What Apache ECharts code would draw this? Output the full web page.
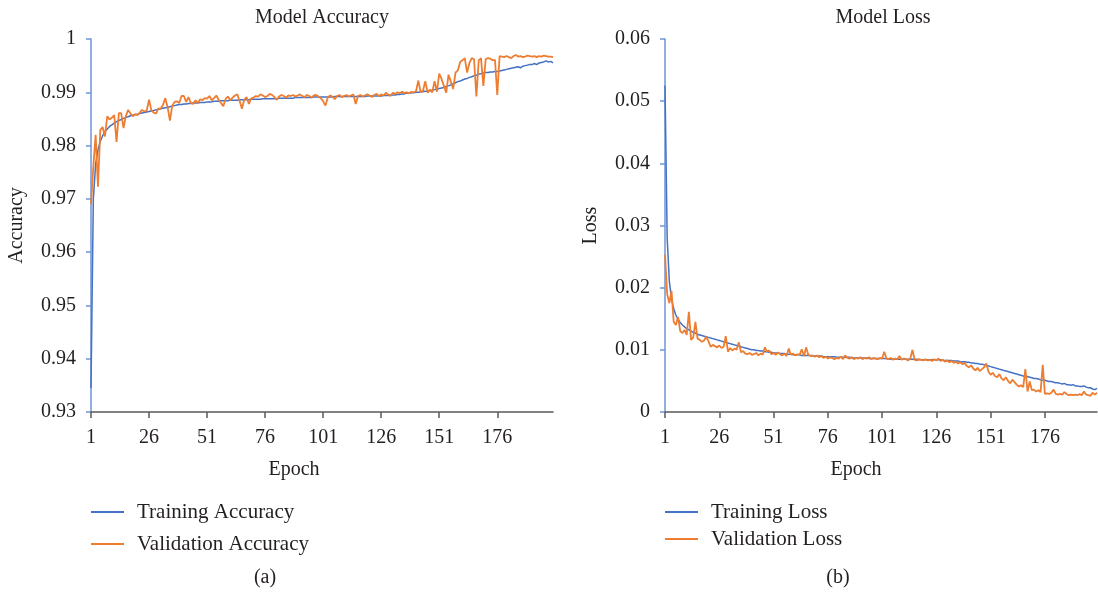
<!DOCTYPE html>
<html>
<head>
<meta charset="utf-8">
<title>Model Accuracy / Model Loss</title>
<script src="https://cdn.jsdelivr.net/npm/echarts@6.0.0/dist/echarts.min.js"></script>
<style>
    html, body { margin: 0; padding: 0; background: #fff; }
    #chart { width: 1098px; height: 595px; }
</style>
</head>
<body>
<div id="chart"></div>
<script>
// epochs 1..200 (category labels only)
let epochs = []
for (let i = 1; i <= 200; i++) {
    epochs.push(String(i))
}

let trainAcc = [
    0.9345, 0.9700, 0.9765, 0.9792, 0.9808, 0.9818, 0.9826, 0.9831, 0.9836, 0.9839,
    0.9842, 0.9845, 0.9847, 0.9849, 0.9851, 0.9853, 0.9854, 0.9856, 0.9857, 0.9858,
    0.9859, 0.9860, 0.9861, 0.9862, 0.9863, 0.9864, 0.9865, 0.9866, 0.9867, 0.9868,
    0.9869, 0.9870, 0.9871, 0.9872, 0.9873, 0.9874, 0.9875, 0.9876, 0.9877, 0.9877,
    0.9878, 0.9878, 0.9879, 0.9879, 0.9880, 0.9880, 0.9880, 0.9881, 0.9881, 0.9881,
    0.9882, 0.9882, 0.9882, 0.9883, 0.9883, 0.9883, 0.9884, 0.9884, 0.9884, 0.9884,
    0.9885, 0.9885, 0.9885, 0.9885, 0.9886, 0.9886, 0.9886, 0.9886, 0.9886, 0.9887,
    0.9887, 0.9887, 0.9887, 0.9887, 0.9888, 0.9888, 0.9888, 0.9888, 0.9888, 0.9888,
    0.9888, 0.9889, 0.9889, 0.9889, 0.9889, 0.9889, 0.9889, 0.9889, 0.9890, 0.9890,
    0.9890, 0.9890, 0.9890, 0.9890, 0.9890, 0.9890, 0.9891, 0.9891, 0.9891, 0.9891,
    0.9891, 0.9891, 0.9891, 0.9891, 0.9891, 0.9892, 0.9892, 0.9892, 0.9892, 0.9892,
    0.9892, 0.9892, 0.9892, 0.9892, 0.9892, 0.9892, 0.9892, 0.9892, 0.9892, 0.9893,
    0.9893, 0.9893, 0.9893, 0.9893, 0.9893, 0.9893, 0.9894, 0.9894, 0.9894, 0.9895,
    0.9895, 0.9895, 0.9896, 0.9896, 0.9897, 0.9897, 0.9898, 0.9898, 0.9899, 0.9899,
    0.9900, 0.9900, 0.9901, 0.9901, 0.9902, 0.9902, 0.9903, 0.9904, 0.9905, 0.9906,
    0.9907, 0.9908, 0.9909, 0.9911, 0.9912, 0.9914, 0.9916, 0.9918, 0.9920, 0.9921,
    0.9923, 0.9925, 0.9926, 0.9928, 0.9929, 0.9931, 0.9932, 0.9934, 0.9935, 0.9936,
    0.9937, 0.9937, 0.9938, 0.9938, 0.9939, 0.9939, 0.9940, 0.9941, 0.9942, 0.9943,
    0.9944, 0.9945, 0.9946, 0.9947, 0.9948, 0.9946, 0.9949, 0.9950, 0.9951, 0.9952,
    0.9952, 0.9954, 0.9952, 0.9955, 0.9956, 0.9957, 0.9959, 0.9957, 0.9958, 0.9955
]

let valAcc = [
    0.9690, 0.9760, 0.9820, 0.9723, 0.9829, 0.9835, 0.9817, 0.9855, 0.9849, 0.9852,
    0.9857, 0.9807, 0.9861, 0.9861, 0.9833, 0.9855, 0.9867, 0.9860, 0.9855, 0.9859,
    0.9857, 0.9862, 0.9867, 0.9864, 0.9866, 0.9886, 0.9866, 0.9862, 0.9860, 0.9870,
    0.9869, 0.9876, 0.9889, 0.9872, 0.9847, 0.9875, 0.9882, 0.9883, 0.9880, 0.9893,
    0.9893, 0.9882, 0.9891, 0.9880, 0.9878, 0.9885, 0.9880, 0.9887, 0.9885, 0.9889,
    0.9888, 0.9893, 0.9885, 0.9889, 0.9894, 0.9886, 0.9880, 0.9874, 0.9888, 0.9892,
    0.9885, 0.9890, 0.9894, 0.9896, 0.9884, 0.9869, 0.9886, 0.9891, 0.9878, 0.9888,
    0.9890, 0.9893, 0.9892, 0.9896, 0.9894, 0.9891, 0.9893, 0.9897, 0.9895, 0.9891,
    0.9886, 0.9892, 0.9895, 0.9893, 0.9890, 0.9894, 0.9893, 0.9895, 0.9892, 0.9894,
    0.9896, 0.9893, 0.9891, 0.9895, 0.9893, 0.9890, 0.9894, 0.9895, 0.9892, 0.9889,
    0.9883, 0.9875, 0.9890, 0.9894, 0.9892, 0.9887, 0.9893, 0.9895, 0.9891, 0.9893,
    0.9895, 0.9892, 0.9894, 0.9896, 0.9878, 0.9893, 0.9895, 0.9892, 0.9894, 0.9896,
    0.9894, 0.9891, 0.9895, 0.9897, 0.9893, 0.9896, 0.9894, 0.9899, 0.9896, 0.9893,
    0.9899, 0.9897, 0.9900, 0.9898, 0.9901, 0.9899, 0.9900, 0.9898, 0.9901, 0.9900,
    0.9902, 0.9922, 0.9900, 0.9903, 0.9921, 0.9899, 0.9905, 0.9900, 0.9921, 0.9901,
    0.9935, 0.9925, 0.9912, 0.9899, 0.9933, 0.9920, 0.9906, 0.9937, 0.9941, 0.9957,
    0.9960, 0.9964, 0.9937, 0.9955, 0.9964, 0.9962, 0.9892, 0.9960, 0.9964, 0.9912,
    0.9962, 0.9964, 0.9963, 0.9960, 0.9961, 0.9895, 0.9968, 0.9967, 0.9966, 0.9968,
    0.9966, 0.9964, 0.9968, 0.9970, 0.9967, 0.9968, 0.9966, 0.9967, 0.9969, 0.9968,
    0.9967, 0.9968, 0.9966, 0.9968, 0.9967, 0.9969, 0.9968, 0.9967, 0.9967, 0.9966
]

let trainLoss = [
    0.0525, 0.0280, 0.0210, 0.0182, 0.0166, 0.0156, 0.0149, 0.0144, 0.0140, 0.0137,
    0.0134, 0.0132, 0.0130, 0.0128, 0.0127, 0.0125, 0.0124, 0.0123, 0.0122, 0.0121,
    0.0120, 0.0119, 0.0118, 0.0117, 0.0116, 0.0115, 0.0114, 0.0113, 0.0112, 0.0111,
    0.0110, 0.0109, 0.0108, 0.0107, 0.0106, 0.0105, 0.0104, 0.0103, 0.0102, 0.0101,
    0.0100, 0.0100, 0.0099, 0.0099, 0.0098, 0.0098, 0.0097, 0.0097, 0.0096, 0.0096,
    0.0095, 0.0095, 0.0095, 0.0094, 0.0094, 0.0094, 0.0093, 0.0093, 0.0093, 0.0092,
    0.0092, 0.0092, 0.0092, 0.0091, 0.0091, 0.0091, 0.0091, 0.0091, 0.0090, 0.0090,
    0.0090, 0.0090, 0.0090, 0.0089, 0.0089, 0.0089, 0.0089, 0.0089, 0.0089, 0.0088,
    0.0088, 0.0088, 0.0088, 0.0088, 0.0088, 0.0088, 0.0087, 0.0087, 0.0087, 0.0087,
    0.0087, 0.0087, 0.0087, 0.0087, 0.0086, 0.0086, 0.0086, 0.0086, 0.0086, 0.0086,
    0.0086, 0.0086, 0.0086, 0.0085, 0.0085, 0.0085, 0.0085, 0.0085, 0.0085, 0.0085,
    0.0085, 0.0085, 0.0085, 0.0085, 0.0085, 0.0085, 0.0085, 0.0084, 0.0084, 0.0084,
    0.0084, 0.0084, 0.0084, 0.0084, 0.0084, 0.0084, 0.0084, 0.0084, 0.0083, 0.0083,
    0.0083, 0.0083, 0.0083, 0.0082, 0.0082, 0.0082, 0.0081, 0.0081, 0.0081, 0.0080,
    0.0080, 0.0079, 0.0079, 0.0078, 0.0078, 0.0077, 0.0077, 0.0076, 0.0075, 0.0074,
    0.0073, 0.0072, 0.0071, 0.0070, 0.0069, 0.0068, 0.0067, 0.0066, 0.0065, 0.0064,
    0.0063, 0.0062, 0.0061, 0.0060, 0.0059, 0.0058, 0.0057, 0.0057, 0.0056, 0.0055,
    0.0054, 0.0054, 0.0053, 0.0052, 0.0051, 0.0051, 0.0050, 0.0049, 0.0049, 0.0048,
    0.0047, 0.0047, 0.0046, 0.0045, 0.0046, 0.0044, 0.0044, 0.0043, 0.0044, 0.0042,
    0.0042, 0.0041, 0.0041, 0.0042, 0.0040, 0.0039, 0.0039, 0.0037, 0.0036, 0.0038
]

let valLoss = [
    0.0253, 0.0190, 0.0175, 0.0195, 0.0145, 0.0140, 0.0153, 0.0130, 0.0127, 0.0132,
    0.0124, 0.0161, 0.0116, 0.0120, 0.0145, 0.0118, 0.0116, 0.0113, 0.0115, 0.0121,
    0.0114, 0.0105, 0.0108, 0.0106, 0.0104, 0.0107, 0.0103, 0.0105, 0.0122, 0.0097,
    0.0103, 0.0099, 0.0102, 0.0100, 0.0112, 0.0096, 0.0098, 0.0094, 0.0093, 0.0095,
    0.0092, 0.0093, 0.0095, 0.0091, 0.0094, 0.0092, 0.0104, 0.0097, 0.0099, 0.0093,
    0.0095, 0.0092, 0.0096, 0.0093, 0.0091, 0.0094, 0.0090, 0.0102, 0.0092, 0.0094,
    0.0091, 0.0093, 0.0092, 0.0101, 0.0090, 0.0104, 0.0092, 0.0090, 0.0091, 0.0089,
    0.0091, 0.0088, 0.0090, 0.0087, 0.0089, 0.0086, 0.0088, 0.0087, 0.0085, 0.0087,
    0.0086, 0.0089, 0.0085, 0.0091, 0.0087, 0.0086, 0.0088, 0.0085, 0.0087, 0.0086,
    0.0088, 0.0085, 0.0087, 0.0086, 0.0088, 0.0085, 0.0087, 0.0086, 0.0085, 0.0087,
    0.0086, 0.0097, 0.0086, 0.0085, 0.0087, 0.0084, 0.0086, 0.0085, 0.0090, 0.0084,
    0.0086, 0.0085, 0.0083, 0.0086, 0.0100, 0.0084, 0.0083, 0.0085, 0.0084, 0.0083,
    0.0085, 0.0083, 0.0084, 0.0082, 0.0085, 0.0083, 0.0086, 0.0082, 0.0084, 0.0081,
    0.0083, 0.0080, 0.0082, 0.0079, 0.0081, 0.0078, 0.0080, 0.0077, 0.0079, 0.0074,
    0.0072, 0.0075, 0.0070, 0.0067, 0.0071, 0.0066, 0.0069, 0.0072, 0.0078, 0.0065,
    0.0060, 0.0063, 0.0058, 0.0056, 0.0061, 0.0054, 0.0051, 0.0056, 0.0050, 0.0046,
    0.0052, 0.0048, 0.0044, 0.0041, 0.0043, 0.0040, 0.0069, 0.0033, 0.0049, 0.0035,
    0.0036, 0.0033, 0.0035, 0.0032, 0.0076, 0.0029, 0.0030, 0.0029, 0.0031, 0.0036,
    0.0029, 0.0028, 0.0029, 0.0028, 0.0032, 0.0029, 0.0027, 0.0028, 0.0027, 0.0028,
    0.0027, 0.0029, 0.0027, 0.0033, 0.0028, 0.0027, 0.0026, 0.0031, 0.0028, 0.0031
]

let blue = '#4472C4', orange = '#ED7D31', ink = '#231F20'
let font = 'Liberation Serif'

function xAxisOpt(gridIndex, shift) {
    return {
        type: 'category',
        gridIndex: gridIndex,
        data: epochs,
        boundaryGap: false,
        name: 'Epoch',
        nameLocation: 'middle',
        nameGap: 48,
        nameTextStyle: {fontFamily: font, fontSize: 20, color: ink, padding: [0, shift, 0, 0]},
        axisLine: {lineStyle: {color: '#595959', width: 1.5}},
        axisTick: {interval: 24, length: 6, lineStyle: {color: '#595959', width: 1.5}},
        axisLabel: {interval: 24, margin: 16, fontFamily: font, fontSize: 20, color: ink},
        splitLine: {show: false}
    }
}

function yAxisOpt(gridIndex, name, min, max) {
    return {
        type: 'value',
        gridIndex: gridIndex,
        min: min,
        max: max,
        interval: 0.01,
        name: name,
        nameLocation: 'middle',
        nameGap: 64,
        nameTextStyle: {fontFamily: font, fontSize: 20, color: ink},
        axisLine: {show: true, lineStyle: {color: '#6E95D6', width: 1.5}},
        axisTick: {show: true, length: 5, lineStyle: {color: '#6E95D6', width: 1.5}},
        axisLabel: {margin: 15, fontFamily: font, fontSize: 20, color: ink},
        splitLine: {show: false}
    }
}

function lineSeries(name, data, color, width, idx) {
    return {
        name: name,
        type: 'line',
        xAxisIndex: idx,
        yAxisIndex: idx,
        data: data,
        showSymbol: false,
        symbol: 'none',
        animation: false,
        lineStyle: {color: color, width: width},
        itemStyle: {color: color}
    }
}

function legendOpt(names, left, gap) {
    return {
        data: names,
        orient: 'vertical',
        left: left,
        top: 496,
        icon: 'rect',
        itemWidth: 33,
        itemHeight: 2,
        itemGap: gap,
        textStyle: {fontFamily: font, fontSize: 21, color: ink, lineHeight: 22, padding: [0, 0, 0, 8]}
    }
}

function label(text, x, y) {
    return {
        type: 'text',
        x: x,
        y: y,
        style: {text: text, fontFamily: font, fontSize: 20, fill: ink, textAlign: 'center', textVerticalAlign: 'middle'}
    }
}

let chart = echarts.init(document.getElementById('chart'))
let option = {
    backgroundColor: '#fff',
    animation: false,
    grid: [
        {left: 91, top: 39, width: 462, height: 373},
        {left: 665, top: 39, width: 432, height: 373}
    ],
    xAxis: [xAxisOpt(0, 56), xAxisOpt(1, 50)],
    yAxis: [yAxisOpt(0, 'Accuracy', 0.93, 1), yAxisOpt(1, 'Loss', 0, 0.06)],
    legend: [
        legendOpt(['Training Accuracy', 'Validation Accuracy'], 86, 10),
        legendOpt(['Training Loss', 'Validation Loss'], 660, 5)
    ],
    graphic: [
        label('Model Accuracy', 322, 18),
        label('Model Loss', 883, 18),
        label('(a)', 265, 578),
        label('(b)', 838, 578)
    ],
    series: [
        lineSeries('Training Accuracy', trainAcc, blue, 1.5, 0),
        lineSeries('Validation Accuracy', valAcc, orange, 1.8, 0),
        lineSeries('Training Loss', trainLoss, blue, 1.5, 1),
        lineSeries('Validation Loss', valLoss, orange, 1.8, 1)
    ]
}
chart.setOption(option)
</script>
</body>
</html>
